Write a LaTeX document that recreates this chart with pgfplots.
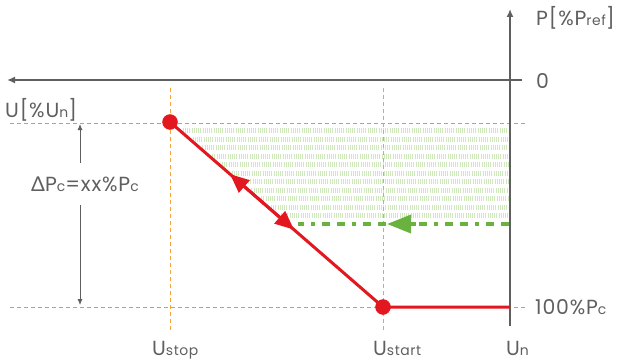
\documentclass[border=0pt]{standalone}
\usepackage{fontspec}
\setmainfont{Poppins}[LetterSpace=4]
\newfontfamily\greekfont{Lato}
\usepackage{pgfplots}
\pgfplotsset{compat=1.18}
\usetikzlibrary{arrows.meta}
\definecolor{myred}{HTML}{E3171F}
\definecolor{mygreen}{HTML}{6AB23F}
\definecolor{hatchgreen}{HTML}{D0E8BE}
\definecolor{myorange}{HTML}{F5A43A}
\definecolor{myblue}{HTML}{8AA6DA}
\definecolor{axisgray}{HTML}{5F5F5F}
\definecolor{txt}{HTML}{5F5F5F}
\newcommand\sub[1]{{\fontsize{14}{15}\selectfont #1}}
\begin{document}
\begin{tikzpicture}
\begin{axis}[scale only axis, width=619bp, height=362bp,
  xmin=0, xmax=619, ymin=0, ymax=362, y dir=reverse,
  hide axis, clip=false]
\coordinate (BBa) at (rel axis cs:0,0);
\coordinate (BBb) at (rel axis cs:1,1);
% hatch rows
\pgfplotsset{hrow/.style={hatchgreen, line width=5bp, dash pattern=on 0.8bp off 1.4bp}}
\addplot[hrow] coordinates {(182.8,130.5) (508,130.5)};
\addplot[hrow] coordinates {(192.6,139) (508,139)};
\addplot[hrow] coordinates {(202.4,147.5) (508,147.5)};
\addplot[hrow] coordinates {(212.1,156) (508,156)};
\addplot[hrow] coordinates {(221.9,164.5) (508,164.5)};
\addplot[hrow] coordinates {(231.7,173) (508,173)};
\addplot[hrow] coordinates {(241.5,181.5) (508,181.5)};
\addplot[hrow] coordinates {(251.3,190) (508,190)};
\addplot[hrow] coordinates {(261.1,198.5) (508,198.5)};
\addplot[hrow] coordinates {(270.9,207) (508,207)};
\addplot[hrow] coordinates {(280.7,215.5) (508,215.5)};
% reference lines
\addplot[myblue, line width=0.9bp, dash pattern=on 4bp off 3bp] coordinates {(10,123) (525,123)};
\addplot[myblue, line width=0.9bp, dash pattern=on 4bp off 3bp] coordinates {(10,307) (525,307)};
\addplot[myorange, line width=0.9bp, dash pattern=on 4bp off 3bp] coordinates {(170,88) (170,332)};
\addplot[myorange, line width=0.9bp, dash pattern=on 4bp off 3bp] coordinates {(383,88) (383,332)};
% axes
\addplot[axisgray, line width=2.5bp, -{Latex[length=8bp,width=7bp]}] coordinates {(522,80) (7,80)};
\addplot[axisgray, line width=2.5bp, -{Latex[length=8bp,width=7bp]}] coordinates {(510,326) (510,9)};
% green dashed with arrow
\addplot[mygreen, line width=3.5bp, dash pattern=on 8bp off 7bp on 8bp off 7bp on 4bp off 7bp] coordinates {(509,224) (298,224)};
\addplot[mygreen, line width=3.5bp, -{Triangle[length=24bp,width=18bp]}] coordinates {(416,224) (387,224)};
% red curve
\addplot[myred, line width=3bp] coordinates {(170,122) (383,307) (510,307)};
\addplot[myred, line width=3bp, -{Triangle[length=19bp,width=16bp]}] coordinates {(262,201.9) (230,174.1)};
\addplot[myred, line width=3bp, -{Triangle[length=19bp,width=16bp]}] coordinates {(262,201.9) (294,229.7)};
\addplot[myred, only marks, mark=*, mark size=7.5bp] coordinates {(170,122) (383,307)};
% delta arrow
\addplot[axisgray, line width=0.8bp, -{Latex[length=6bp,width=5bp]}] coordinates {(80,163) (80,124)};
\addplot[axisgray, line width=0.8bp, -{Latex[length=6bp,width=5bp]}] coordinates {(80,205) (80,305)};
% labels
\begin{scope}[every node/.style={text=txt, font=\fontsize{20.5}{22}\selectfont, inner sep=0pt, anchor=base west}]
\node at (axis cs:536,26) {P[\%P\sub{ref}]};
\node at (axis cs:536,88) {0};
\node at (axis cs:5,117) {U[\%U\sub{n}]};
\node[anchor=base] at (axis cs:85,191) {{\greekfont Δ}P\sub{c}=xx\%P\sub{c}};
\node at (axis cs:535,314) {100\%P\sub{c}};
\node at (axis cs:152,355) {U\sub{stop}};
\node at (axis cs:373,355) {U\sub{start}};
\node at (axis cs:506,355) {U\sub{n}};
\end{scope}
\end{axis}
\pgfresetboundingbox
\useasboundingbox (BBa) rectangle (BBb);
\end{tikzpicture}
\end{document}
